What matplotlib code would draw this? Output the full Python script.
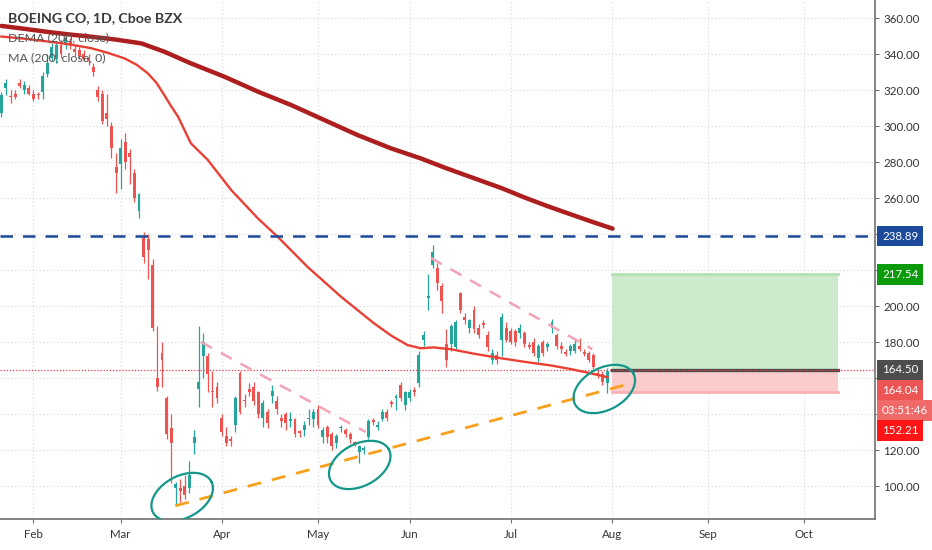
import numpy as np
import pandas as pd
import matplotlib
matplotlib.use("Agg")
import matplotlib.pyplot as plt
import matplotlib.transforms as mtransforms

plt.rcParams['font.family'] = ['Lato', 'DejaVu Sans']

# ---------------- data ----------------
start_date = "2020-01-23"
holidays = ["2020-02-17", "2020-04-10", "2020-05-25", "2020-07-03", "2020-09-07"]

opens = [307, 321, 316.5, 318, 324, 320, 321, 318, 318, 319,
         329, 338, 337, 345, 345, 347, 343, 342, 340, 338,
         333, 320, 318, 307, 300, 277, 279, 291, 285, 274,
         253, 238, 237, 223, 160, 174, 149, 132, 99, 99,
         100, 99, 124, 154, 172, 172, 153, 155, 138, 128,
         126, 134, 163, 148, 154, 155, 152, 138, 141, 150,
         147, 138, 140, 136, 137, 130, 131, 137, 137, 143,
         127, 133, 129, 124, 132, 131, 129, 124.5, 119, 120,
         127, 136.5, 133, 137, 141, 146.5, 149, 156, 145, 149,
         153.5, 157, 181, 204.5, 223, 221, 211, 179, 179, 177,
         207, 194, 188, 198, 188, 190.5, 184, 170, 173, 181,
         188, 186, 186, 185, 185, 178.5, 180, 171, 180, 177,
         188, 184, 178, 174.5, 175, 175, 178, 174.5, 174, 173,
         163, 162, 157]
highs = [319, 326, 320, 320, 326, 325, 323, 320, 319, 330,
         340, 346, 347, 348, 350, 349, 345, 344, 342, 340,
         335, 322, 320, 318, 302, 285, 293, 296, 287, 276,
         263, 241, 240, 226, 189, 180, 150, 140, 102, 104,
         106, 114, 131, 189, 185, 174, 164, 158, 140, 133,
         128, 150, 164, 151, 157, 158, 153, 148, 143, 156,
         150, 140, 141, 141, 138, 131, 136, 143, 143, 145,
         133, 134, 130, 129, 134, 132, 130, 125, 123, 122,
         137, 138, 136, 143, 143, 148, 151, 158, 153, 154,
         155, 175, 186, 218, 234, 224, 213, 187, 190, 192,
         208, 196, 193, 200, 190, 192, 186, 176, 175, 196,
         191, 188, 187, 190, 186, 180, 182, 179, 181, 180,
         193, 185, 180, 176, 179, 181, 182, 176, 175, 174,
         165, 164, 165.5]
lows = [305, 317, 313, 315, 321, 318, 317, 314, 315, 315,
        327, 336, 335, 338, 343, 343, 339, 337, 336, 334,
        328, 314, 301, 300, 282, 263, 265, 276, 268, 258,
        249, 224, 215, 186, 153, 155, 126, 101.6, 89, 91,
        93, 96, 118, 144, 160, 152, 144, 146, 128, 122,
        122, 130, 140, 144, 150, 145, 138, 133, 132, 146,
        140, 133, 131, 133, 127, 127, 128, 134, 133, 132,
        124, 124, 120, 121, 130, 127, 124, 122, 113, 118,
        126, 134, 131, 136, 136, 144, 142, 147, 142, 147,
        150, 155, 178, 198, 221, 209, 196, 166, 175, 176,
        196, 190, 185, 185, 182, 188, 175, 168, 168, 172,
        180, 179, 178, 182, 177, 176, 172, 169, 172, 175,
        185, 176, 174, 172, 173, 174, 175, 172, 169, 165,
        160, 156, 151.5]
closes = [317, 324, 316, 316, 322, 323, 318, 315, 317, 328,
          335, 344, 345, 340, 349, 345, 341, 339, 337, 336,
          330, 316, 303, 304, 288, 274, 288, 280, 283, 260,
          262, 227, 231, 188, 155, 170, 129, 124, 101, 97,
          95, 106, 127, 158, 180, 162, 152, 149, 130, 124,
          125, 149, 141, 147, 152, 147, 140, 146, 135, 153,
          143, 136, 135, 137, 129, 129.5, 134, 138, 141, 134,
          131, 127, 122, 128, 133, 129, 126, 123.5, 122, 121,
          136, 135.5, 134, 141, 138, 145.5, 150, 149, 152, 152,
          152.5, 173, 184, 205.5, 230, 213, 203, 170, 189, 191,
          198, 192, 192, 187, 184, 189.5, 177, 174, 170, 194,
          181, 180, 180, 188, 179, 177.5, 174, 178, 174, 179,
          191, 178, 176, 173.5, 178, 179, 176, 173.5, 170, 166,
          162, 158, 163.8]

# moving averages (bar index, value)
dema_idx = [0, 5, 10.9, 15, 19.6, 25, 30.5, 35.5, 41.3, 48.6, 55.9, 63.1, 70.4,
            77.6, 84.9, 91.4, 97, 103, 109, 114.3, 119, 124, 128.5, 133.2]
dema_val = [355.6, 354, 352, 350.8, 349.6, 348, 345.9, 341.3, 334.8, 327.4, 319.1, 311.7, 303.3,
            295, 287.6, 282, 276.5, 271, 265.5, 260, 255.5, 251, 247, 243]
ma_idx = [0, 5, 10.9, 15, 19.6, 23, 26.8, 29.5, 31.9, 33.8, 35.5, 37, 38.5, 41.3, 45.0,
          50.1, 55.9, 60.2, 66.7, 74.0, 81.2, 85, 88.5, 91.4, 94.2, 97.9, 103, 108.8,
          114, 119.7, 124, 127.7, 132.1]
ma_val = [349.7, 348.5, 346.7, 345.3, 343.2, 340.8, 337.6, 334, 329.3, 324, 317.2, 311, 305.2,
          290.4, 281.1, 264.4, 248.7, 238.5, 221.8, 205.2, 190.4, 183.5, 178.3, 176.5,
          177, 176, 173.5, 171, 169, 167, 165, 163, 160.5]

resistance = 238.89
target, entry, stop = 217.54, 164.50, 152.21
last_price = 164.04
countdown = "03:51:46"

trend1_idx, trend1_val = [43.5, 79.4], [180, 130]
trend2_idx, trend2_val = [93.6, 128.8], [226.7, 176]
support_idx, support_val = [37.9, 137.5], [89, 157.2]
box_idx = [133.0, 182.4]

ellipse_centers = [(39.4, 93.9), (78.1, 111.7), (131.4, 153.9)]

ytick_vals = [100, 120, 140, 160, 180, 200, 220, 240, 260, 280, 300, 320, 340, 360]
ytick_labels = ["100.00", "120.00", "", "", "180.00", "200.00", "", "",
                "260.00", "280.00", "300.00", "320.00", "340.00", "360.00"]
month_names = ["Feb", "Mar", "Apr", "May", "Jun", "Jul", "Aug", "Sep", "Oct"]

# ---------------- figure ----------------
W, H = 932, 550
fig = plt.figure(figsize=(W / 100, H / 100), dpi=100)
fig.patch.set_facecolor("white")
ax = fig.add_axes([0, 31 / H, 875 / W, 519 / H])
ax.set_xlim(-0.3, 190.4)
ax.set_ylim(81.67, 370)

up_c, dn_c = "#26a69a", "#ef5350"
o = np.array(opens); h = np.array(highs); l = np.array(lows); c = np.array(closes)
x = np.arange(len(o))
cols = np.where(c >= o, up_c, dn_c)
ax.vlines(x, l, h, colors=cols, lw=0.9, zorder=3)
bot = np.minimum(o, c)
ht = np.maximum(np.abs(c - o), 0.9)
ax.bar(x, ht, bottom=bot, width=0.64, color=cols, zorder=3, linewidth=0)

# moving averages
ax.plot(dema_idx, dema_val, color="#ad1f1f", lw=3.2, solid_capstyle="round",
        solid_joinstyle="round", zorder=4)
ax.plot(ma_idx, ma_val, color="#ea4034", lw=1.7, solid_joinstyle="round", zorder=4)

# horizontal resistance
ax.axhline(resistance, color="#1c4a9a", lw=1.8, ls=(0, (5, 4)), zorder=4)
# current price dotted line
ax.axhline(entry, color="#f23645", lw=0.9, ls=(0, (1, 1.5)), zorder=2)

# trend lines
ax.plot(trend1_idx, trend1_val, color="#f3a3b6", lw=1.8, ls=(0, (5, 4)), zorder=4)
ax.plot(trend2_idx, trend2_val, color="#f3a3b6", lw=1.8, ls=(0, (5, 4)), zorder=4)
ax.plot(support_idx, support_val, color="#f7a01c", lw=2.0, ls=(0, (5, 4)), zorder=4)

# long position box
ax.fill_between(box_idx, entry, target, color="#cdeacd", lw=0, zorder=1.5)
ax.fill_between(box_idx, stop, entry, color="#fccbcb", lw=0, zorder=1.5)
ax.plot(box_idx, [target, target], color="#b6dfb6", lw=2.0, zorder=1.6)
ax.plot(box_idx, [stop, stop], color="#f9b1b1", lw=2.0, zorder=1.6)
ax.plot(box_idx, [entry, entry], color="#4d4d4d", lw=2.4, zorder=1.7)

# ellipses (drawn in pixel space)
def draw_ellipse(cx, cy, a_px, b_px, ang_deg):
    px, py = ax.transData.transform((cx, cy))
    t = np.linspace(0, 2 * np.pi, 200)
    th = np.deg2rad(ang_deg)
    ex = px + a_px * np.cos(t) * np.cos(th) - b_px * np.sin(t) * np.sin(th)
    ey = py + a_px * np.cos(t) * np.sin(th) + b_px * np.sin(t) * np.cos(th)
    pts = ax.transData.inverted().transform(np.column_stack([ex, ey]))
    ax.plot(pts[:, 0], pts[:, 1], color="#13978a", lw=1.6, zorder=5)

for (cx, cy) in ellipse_centers:
    draw_ellipse(cx, cy, 33, 21, 28)

# grid & axes
ax.set_yticks(ytick_vals)
ax.set_yticklabels(ytick_labels)
ax.yaxis.tick_right()

dates = pd.bdate_range("2020-01-23", "2020-10-31", freq="C", holidays=holidays)
s = pd.Series(np.arange(len(dates)), index=dates)
month_pos = [int(s[s.index.month == m].iloc[0]) for m in range(2, 11)]
ax.set_xticks(month_pos)
ax.set_xticklabels(month_names)

ax.grid(True, color="#d5d8de", lw=0.8, ls=(0, (1, 2.2)), zorder=0)
ax.set_axisbelow(True)
for sp in ["left", "top"]:
    ax.spines[sp].set_visible(False)
ax.spines["right"].set_color("#6f6f6f")
ax.spines["bottom"].set_color("#6f6f6f")
ax.spines["right"].set_linewidth(1.2)
ax.spines["bottom"].set_linewidth(1.2)
ax.tick_params(axis="y", length=3, width=0.8, color="#6f6f6f", pad=3,
               labelsize=8.3, labelcolor="#333333")
ax.tick_params(axis="x", length=3, width=0.8, color="#6f6f6f", pad=4,
               labelsize=8.3, labelcolor="#333333")

# header text
ax.text(8 / 875, 1 - 18 / 519, "BOEING CO, 1D, Cboe BZX", transform=ax.transAxes,
        fontsize=10.2, fontweight="bold", color="#3a3a3a", va="center", ha="left", zorder=6)
ax.text(8 / 875, 1 - 38 / 519, "DEMA (200, close)", transform=ax.transAxes,
        fontsize=8.9, color="#555555", va="center", ha="left", zorder=6)
ax.text(8 / 875, 1 - 58 / 519, "MA (200, close, 0)", transform=ax.transAxes,
        fontsize=8.9, color="#555555", va="center", ha="left", zorder=6)

# right-axis price labels
tr = mtransforms.blended_transform_factory(ax.transAxes, ax.transData)
def price_label(ypos, txt, fc):
    ax.text(1 + 7 / 875, ypos, txt, transform=tr, fontsize=8.3, color="white",
            va="center", ha="left", clip_on=False, zorder=10,
            bbox=dict(boxstyle="square,pad=0.42", fc=fc, ec="none"))

price_label(resistance, f"{resistance:.2f}", "#1c4a9a")
price_label(target, f"{target:.2f}", "#0b9a0b")
price_label(entry, f"{entry:.2f}", "#4d4d4d")
price_label(153.3, f"{last_price:.2f}", "#ec5553")
price_label(141.8, countdown, "#f06a6a")
price_label(130.7, f"{stop:.2f}", "#ff1515")

fig.savefig("out.png", dpi=100, facecolor="white")
